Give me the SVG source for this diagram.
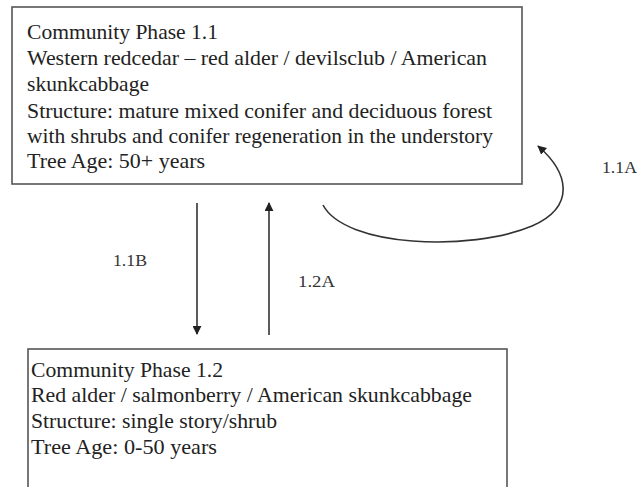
<svg xmlns="http://www.w3.org/2000/svg" width="639" height="487" viewBox="0 0 639 487">
<defs>
<style>
.box{fill:#fff;stroke:#555;stroke-width:1.6}
.t{font-family:"Liberation Serif","Times New Roman",serif;font-size:21px;fill:#222}
.lbl{font-family:"Liberation Serif","Times New Roman",serif;font-size:17px;fill:#333}
.c{fill:none;stroke:#333;stroke-width:1.6}
</style>
<marker id="ah" viewBox="0 0 10 10" refX="9" refY="5" markerWidth="9" markerHeight="9" markerUnits="userSpaceOnUse" orient="auto"><path d="M0,0L10,5L0,10z" fill="#222"/></marker>
</defs>
<rect width="639" height="487" fill="#fff"/>
<g id="phase11">
<rect class="box" x="12" y="7" width="510" height="177"/>
<text class="t" x="27" y="39" textLength="191" lengthAdjust="spacingAndGlyphs">Community  Phase 1.1</text>
<text class="t" x="27" y="65" textLength="460" lengthAdjust="spacingAndGlyphs">Western redcedar – red alder / devilsclub  / American</text>
<text class="t" x="27" y="91" textLength="122" lengthAdjust="spacingAndGlyphs">skunkcabbage</text>
<text class="t" x="27" y="118" textLength="465" lengthAdjust="spacingAndGlyphs">Structure: mature mixed conifer and deciduous forest</text>
<text class="t" x="27" y="143" textLength="466" lengthAdjust="spacingAndGlyphs">with shrubs and conifer regeneration in the understory</text>
<text class="t" x="27" y="168" textLength="178" lengthAdjust="spacingAndGlyphs">Tree Age: 50+ years</text>
</g>
<g id="phase12">
<rect class="box" x="28" y="349" width="479" height="150"/>
<text class="t" x="31" y="377" textLength="192" lengthAdjust="spacingAndGlyphs">Community  Phase 1.2</text>
<text class="t" x="31" y="402" textLength="441" lengthAdjust="spacingAndGlyphs">Red alder / salmonberry / American skunkcabbage</text>
<text class="t" x="31" y="428" textLength="246" lengthAdjust="spacingAndGlyphs">Structure: single  story/shrub</text>
<text class="t" x="31" y="454" textLength="186" lengthAdjust="spacingAndGlyphs">Tree Age: 0-50 years</text>
</g>
<g id="connectors">
<line class="c" x1="197" y1="203" x2="197" y2="334" marker-end="url(#ah)"/>
<line class="c" x1="269" y1="335" x2="269" y2="203" marker-end="url(#ah)"/>
<path class="c" d="M323,205 C345,247 470,252 532,226 C577,206 568,172 538,146" marker-end="url(#ah)"/>
</g>
<g id="labels">
<text class="lbl" x="113" y="266" textLength="34" lengthAdjust="spacingAndGlyphs">1.1B</text>
<text class="lbl" x="298" y="287" textLength="37" lengthAdjust="spacingAndGlyphs">1.2A</text>
<text class="lbl" x="602" y="173" textLength="35" lengthAdjust="spacingAndGlyphs">1.1A</text>
</g>
</svg>
